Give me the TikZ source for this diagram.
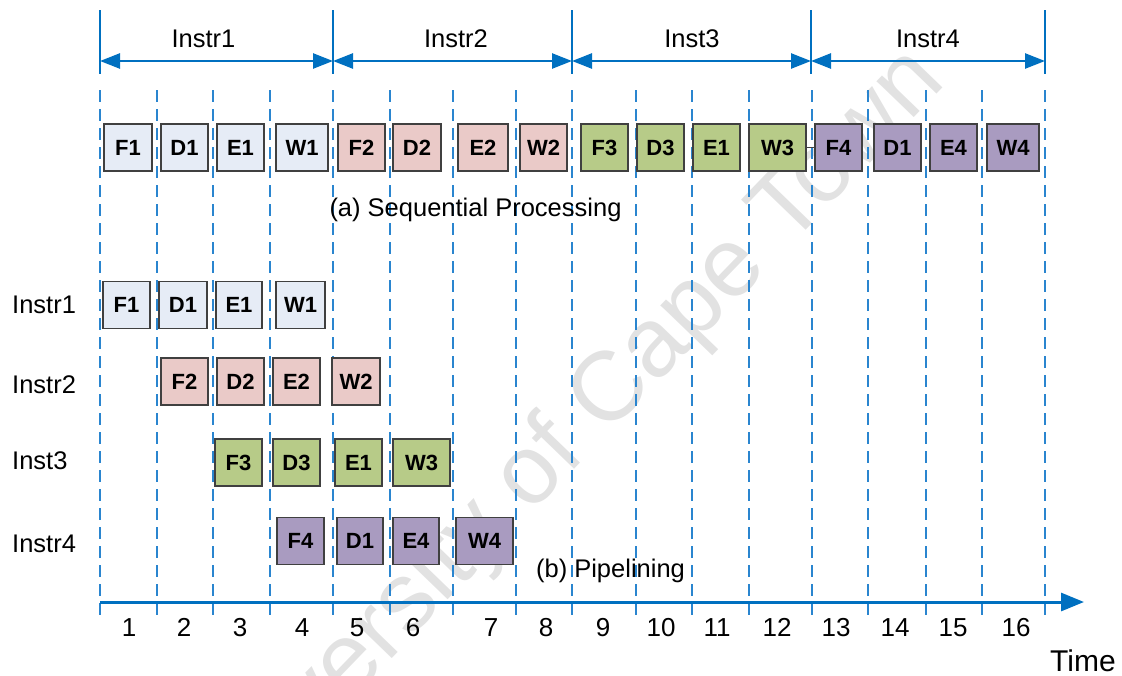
\documentclass[tikz,border=0pt]{standalone}
\usepackage{fontspec}
\setmainfont{Liberation Sans}
\usetikzlibrary{arrows.meta}
\definecolor{lineblue}{HTML}{0070C0}
\definecolor{gridblue}{HTML}{2A85CF}
\definecolor{edgegray}{HTML}{404040}
\definecolor{stblue}{HTML}{E6ECF6}
\definecolor{stpink}{HTML}{EACAC8}
\definecolor{stgreen}{HTML}{B7CB88}
\definecolor{stviolet}{HTML}{A99BC0}
\definecolor{wmgray}{RGB}{226,226,226}
\begin{document}
\begin{tikzpicture}[x=1pt,y=-1pt,
  stage/.style={draw=edgegray, line width=1.3pt, inner sep=0pt, minimum height=47pt,
    font=\fontsize{22}{26}\selectfont\bfseries},
  lbl/.style={font=\fontsize{25.5}{30}\selectfont, inner sep=0pt, anchor=base},
  tick/.style={font=\fontsize{26}{30}\selectfont, inner sep=0pt, anchor=base},
  gridline/.style={gridblue, line width=2pt, dash pattern=on 12pt off 7pt},
  sepline/.style={lineblue, line width=2.5pt},
  span/.style={lineblue, line width=2.5pt,
    {Triangle[length=20pt,width=15pt]}-{Triangle[length=20pt,width=15pt]}},
  axis/.style={lineblue, line width=3pt, -{Triangle[length=23pt,width=18pt]}},
  watermark/.style={text=wmgray, font=\fontsize{98}{98}\selectfont,
    rotate=46, inner sep=0pt}
]
\useasboundingbox (0,0) rectangle (1122,675);

% ---- background watermark ----
\node[watermark] (wm) at (562,446) {University of Cape Town};

% ---- time grid ----
\foreach \x [count=\i] in {100,157,213,270,333,390,453,516,572,636,692,749,812,868,926,982,1045} {
  \coordinate (gt-\i) at (\x,90);
  \coordinate (gb-\i) at (\x,622);
  \draw[gridline] (gt-\i) -- (gb-\i);
}

% ---- sequential processing: one stage after another ----
\foreach \l/\r/\t/\c [count=\i] in {
  104/152/F1/stblue, 161/208/D1/stblue, 217/264/E1/stblue, 276/328/W1/stblue,
  338/385/F2/stpink, 393/441/D2/stpink, 458/508/E2/stpink, 520/567/W2/stpink,
  581/628/F3/stgreen, 637/684/D3/stgreen, 693/740/E1/stgreen, 749/806/W3/stgreen,
  815/862/F4/stviolet, 874/921/D1/stviolet, 930/977/E4/stviolet, 987/1039/W4/stviolet}
  \node[stage, fill=\c, minimum width={(\r-\l)*1pt}] (seq-\i) at ({(\l+\r)/2},147.5) {\t};
\draw[edgegray, line width=1.3pt] (seq-12.east) -- (seq-13.west);

% ---- pipelining: overlapping stages ----
\foreach \l/\r/\t [count=\i] in {103/150/F1, 159/207/D1, 216/262/E1, 276/325/W1}
  \node[stage, fill=stblue, minimum width={(\r-\l)*1pt}] (pa-\i) at ({(\l+\r)/2},305) {\t};
\foreach \l/\r/\t [count=\i] in {161/208/F2, 217/264/D2, 273/320/E2, 332/380/W2}
  \node[stage, fill=stpink, minimum width={(\r-\l)*1pt}] (pb-\i) at ({(\l+\r)/2},381.5) {\t};
\foreach \l/\r/\t [count=\i] in {215/262/F3, 273/320/D3, 335/382/E1, 393/450/W3}
  \node[stage, fill=stgreen, minimum width={(\r-\l)*1pt}] (pc-\i) at ({(\l+\r)/2},462.5) {\t};
\foreach \l/\r/\t [count=\i] in {277/324/F4, 337/383/D1, 393/439/E4, 456/513/W4}
  \node[stage, fill=stviolet, minimum width={(\r-\l)*1pt}] (pd-\i) at ({(\l+\r)/2},541) {\t};

% ---- instruction spans on top ----
\foreach \x [count=\i] in {100,333,572,811,1045} {
  \coordinate (st-\i) at (\x,10);
  \coordinate (sm-\i) at (\x,61);
  \coordinate (sb-\i) at (\x,74);
  \draw[sepline] (st-\i) -- (sb-\i);
}
\draw[span] (sm-1) -- (sm-2);
\draw[span] (sm-2) -- (sm-3);
\draw[span] (sm-3) -- (sm-4);
\draw[span] (sm-4) -- (sm-5);
\node[lbl] (top-1) at (203.5,47) {Instr1};
\node[lbl] (top-2) at (456,47) {Instr2};
\node[lbl] (top-3) at (692,47) {Inst3};
\node[lbl] (top-4) at (928,47) {Instr4};

% ---- captions and row labels ----
\node[lbl] (cap-a) at (475.5,216.5) {(a) Sequential Processing};
\node[lbl] (cap-b) at (610.5,577) {(b) Pipelining};
\node[lbl, anchor=base west] (row-1) at (12,313) {Instr1};
\node[lbl, anchor=base west] (row-2) at (12,393) {Instr2};
\node[lbl, anchor=base west] (row-3) at (12,469.5) {Inst3};
\node[lbl, anchor=base west] (row-4) at (12,552) {Instr4};

% ---- time axis ----
\coordinate (ax-start) at (100,602);
\coordinate (ax-end) at (1084,602);
\draw[axis] (ax-start) -- (ax-end);
\foreach \x [count=\i] in {129,184,240,302,357,413,491,546,603,661,717,777,836,895,953,1016}
  \node[tick] (num-\i) at (\x,636) {\i};
\node[lbl, font=\fontsize{30}{34}\selectfont] (time) at (1083,671) {Time};
\end{tikzpicture}
\end{document}
